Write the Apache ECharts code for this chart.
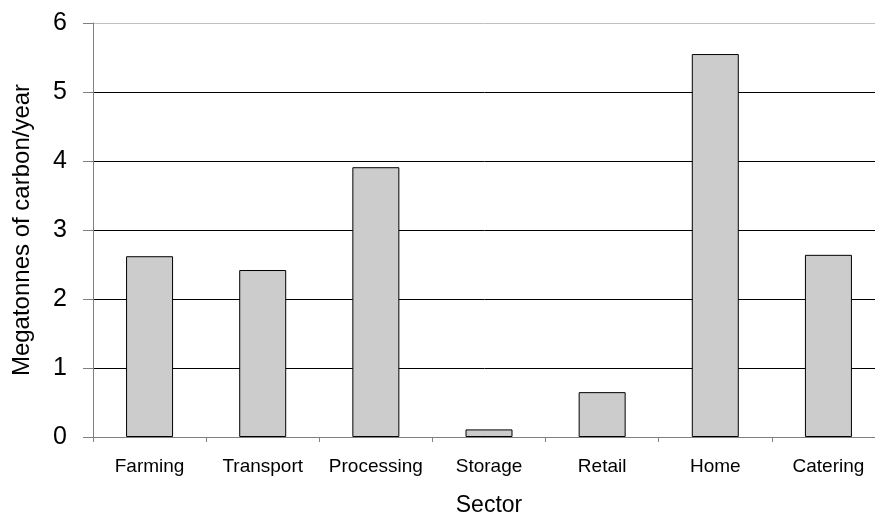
<!DOCTYPE html>
<html>
<head>
<meta charset="utf-8">
<script src="https://cdn.jsdelivr.net/npm/echarts@6/dist/echarts.min.js"></script>
<style>
  html, body { margin: 0; padding: 0; background: #fff; }
  #chart { width: 875px; height: 519px; }
</style>
</head>
<body>
<div id="chart"></div>
<script>
// sectors and emissions (Mt carbon / year)
var sectors = ['Farming', 'Transport', 'Processing', 'Storage', 'Retail', 'Home', 'Catering'];
var emissions = [2.62, 2.42, 3.91, 0.11, 0.65, 5.55, 2.64];
var yTicks = [0, 1, 2, 3, 4, 5, 6];

var chart = echarts.init(document.getElementById('chart'));

// top gridline is lighter in the original
var gridColors = yTicks.map(function (v, i) {
    return i === yTicks.length - 1 ? '#c0c0c0' : '#000';
});

var option = {
    animation: false,
    grid: {left: 93, right: -10, top: 23, bottom: 82, outerBoundsMode: 'none', containLabel: false},
    xAxis: {
        type: 'category',
        data: sectors,
        name: 'Sector',
        nameLocation: 'middle',
        nameGap: 57,
        nameTextStyle: {fontFamily: 'Liberation Sans', fontSize: 23, color: '#000'},
        axisLine: {lineStyle: {color: '#808080', width: 1}},
        axisTick: {show: true, interval: 0, length: 5, inside: false, lineStyle: {color: '#808080'}},
        axisLabel: {interval: 0, hideOverlap: false, fontFamily: 'Liberation Sans', fontSize: 19, color: '#000', margin: 20}
    },
    yAxis: {
        type: 'value',
        min: yTicks[0],
        max: yTicks[yTicks.length - 1],
        interval: 1,
        name: 'Megatonnes of carbon/year',
        nameLocation: 'middle',
        nameGap: 59,
        nameTextStyle: {fontFamily: 'Liberation Sans', fontSize: 24, color: '#000'},
        axisLine: {show: true, lineStyle: {color: '#808080', width: 1}},
        axisTick: {show: true, length: 10, lineStyle: {color: '#808080'}},
        axisLabel: {fontFamily: 'Liberation Sans', fontSize: 25, color: '#000', margin: 26},
        splitLine: {lineStyle: {color: gridColors, width: 1}}
    },
    series: [{
        type: 'bar',
        data: emissions,
        barWidth: 47,
        itemStyle: {color: '#cccccc', borderColor: '#000', borderWidth: 1}
    }]
};

chart.setOption(option);
</script>
</body>
</html>
